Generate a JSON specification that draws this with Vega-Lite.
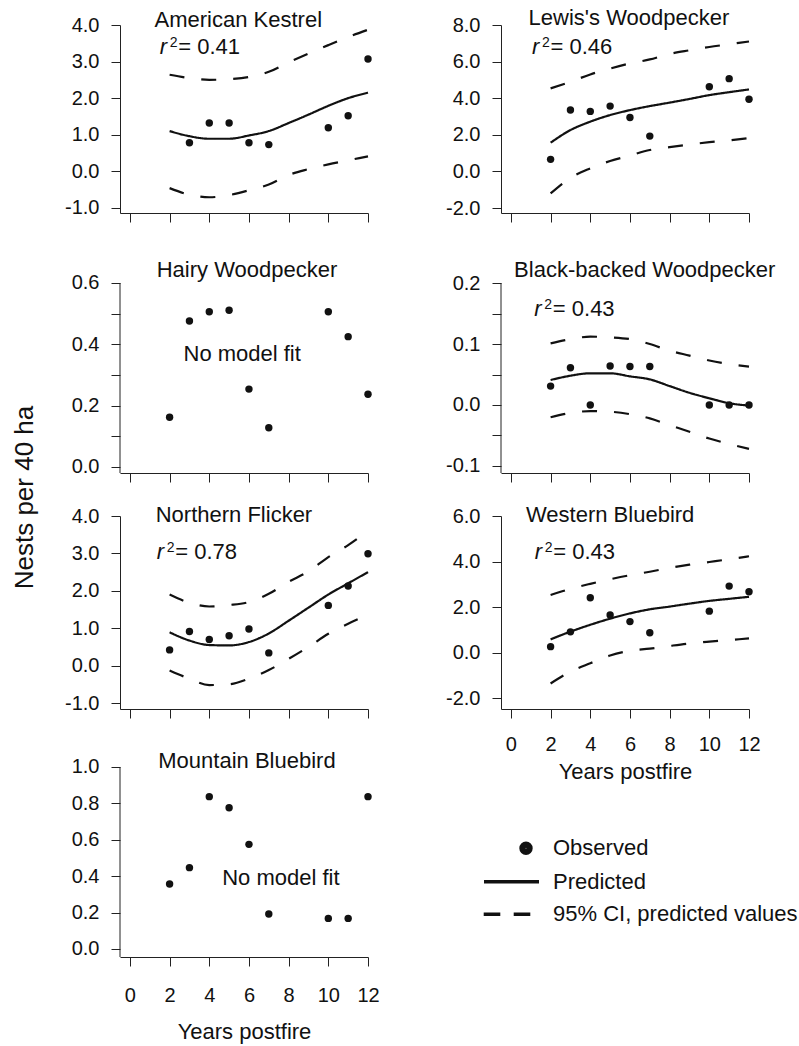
{
  "$schema": "https://vega.github.io/schema/vega-lite/v6.json",
  "padding": {"left": 11, "top": 7, "right": 2, "bottom": 2},
  "background": "white",
  "datasets": {
    "obs": [
      {"sp":"AK","year":3,"v":0.78},{"sp":"AK","year":4,"v":1.32},{"sp":"AK","year":5,"v":1.32},{"sp":"AK","year":6,"v":0.78},{"sp":"AK","year":7,"v":0.73},{"sp":"AK","year":10,"v":1.19},{"sp":"AK","year":11,"v":1.52},{"sp":"AK","year":12,"v":3.07},
      {"sp":"LW","year":2,"v":0.66},{"sp":"LW","year":3,"v":3.36},{"sp":"LW","year":4,"v":3.28},{"sp":"LW","year":5,"v":3.57},{"sp":"LW","year":6,"v":2.95},{"sp":"LW","year":7,"v":1.93},{"sp":"LW","year":10,"v":4.63},{"sp":"LW","year":11,"v":5.07},{"sp":"LW","year":12,"v":3.94},
      {"sp":"HW","year":2,"v":0.162},{"sp":"HW","year":3,"v":0.476},{"sp":"HW","year":4,"v":0.506},{"sp":"HW","year":5,"v":0.511},{"sp":"HW","year":6,"v":0.254},{"sp":"HW","year":7,"v":0.128},{"sp":"HW","year":10,"v":0.506},{"sp":"HW","year":11,"v":0.425},{"sp":"HW","year":12,"v":0.237},
      {"sp":"BW","year":2,"v":0.031},{"sp":"BW","year":3,"v":0.061},{"sp":"BW","year":4,"v":0.0},{"sp":"BW","year":5,"v":0.064},{"sp":"BW","year":6,"v":0.063},{"sp":"BW","year":7,"v":0.063},{"sp":"BW","year":10,"v":0.0},{"sp":"BW","year":11,"v":0.0},{"sp":"BW","year":12,"v":0.0},
      {"sp":"NF","year":2,"v":0.42},{"sp":"NF","year":3,"v":0.91},{"sp":"NF","year":4,"v":0.70},{"sp":"NF","year":5,"v":0.80},{"sp":"NF","year":6,"v":0.98},{"sp":"NF","year":7,"v":0.34},{"sp":"NF","year":10,"v":1.61},{"sp":"NF","year":11,"v":2.13},{"sp":"NF","year":12,"v":2.99},
      {"sp":"WB","year":2,"v":0.26},{"sp":"WB","year":3,"v":0.91},{"sp":"WB","year":4,"v":2.41},{"sp":"WB","year":5,"v":1.65},{"sp":"WB","year":6,"v":1.36},{"sp":"WB","year":7,"v":0.87},{"sp":"WB","year":10,"v":1.82},{"sp":"WB","year":11,"v":2.92},{"sp":"WB","year":12,"v":2.67},
      {"sp":"MB","year":2,"v":0.357},{"sp":"MB","year":3,"v":0.447},{"sp":"MB","year":4,"v":0.837},{"sp":"MB","year":5,"v":0.776},{"sp":"MB","year":6,"v":0.575},{"sp":"MB","year":7,"v":0.192},{"sp":"MB","year":10,"v":0.168},{"sp":"MB","year":11,"v":0.168},{"sp":"MB","year":12,"v":0.837}
    ],
    "fit": [
      {"sp":"AK","k":"pred","year":2,"v":1.10},{"sp":"AK","k":"pred","year":3,"v":0.96},{"sp":"AK","k":"pred","year":4,"v":0.89},{"sp":"AK","k":"pred","year":5,"v":0.89},{"sp":"AK","k":"pred","year":6,"v":0.98},{"sp":"AK","k":"pred","year":7,"v":1.10},{"sp":"AK","k":"pred","year":8,"v":1.32},{"sp":"AK","k":"pred","year":9,"v":1.55},{"sp":"AK","k":"pred","year":10,"v":1.79},{"sp":"AK","k":"pred","year":11,"v":2.00},{"sp":"AK","k":"pred","year":12,"v":2.15},
      {"sp":"AK","k":"hi","year":2,"v":2.64},{"sp":"AK","k":"hi","year":3,"v":2.55},{"sp":"AK","k":"hi","year":4,"v":2.50},{"sp":"AK","k":"hi","year":5,"v":2.52},{"sp":"AK","k":"hi","year":6,"v":2.58},{"sp":"AK","k":"hi","year":7,"v":2.72},{"sp":"AK","k":"hi","year":8,"v":2.98},{"sp":"AK","k":"hi","year":9,"v":3.22},{"sp":"AK","k":"hi","year":10,"v":3.45},{"sp":"AK","k":"hi","year":11,"v":3.67},{"sp":"AK","k":"hi","year":12,"v":3.87},
      {"sp":"AK","k":"lo","year":2,"v":-0.46},{"sp":"AK","k":"lo","year":3,"v":-0.64},{"sp":"AK","k":"lo","year":4,"v":-0.71},{"sp":"AK","k":"lo","year":5,"v":-0.65},{"sp":"AK","k":"lo","year":6,"v":-0.52},{"sp":"AK","k":"lo","year":7,"v":-0.36},{"sp":"AK","k":"lo","year":8,"v":-0.10},{"sp":"AK","k":"lo","year":9,"v":0.06},{"sp":"AK","k":"lo","year":10,"v":0.19},{"sp":"AK","k":"lo","year":11,"v":0.30},{"sp":"AK","k":"lo","year":12,"v":0.41},
      {"sp":"LW","k":"pred","year":2,"v":1.57},{"sp":"LW","k":"pred","year":3,"v":2.26},{"sp":"LW","k":"pred","year":4,"v":2.72},{"sp":"LW","k":"pred","year":5,"v":3.08},{"sp":"LW","k":"pred","year":6,"v":3.35},{"sp":"LW","k":"pred","year":7,"v":3.57},{"sp":"LW","k":"pred","year":8,"v":3.76},{"sp":"LW","k":"pred","year":9,"v":3.96},{"sp":"LW","k":"pred","year":10,"v":4.17},{"sp":"LW","k":"pred","year":11,"v":4.33},{"sp":"LW","k":"pred","year":12,"v":4.48},
      {"sp":"LW","k":"hi","year":2,"v":4.54},{"sp":"LW","k":"hi","year":3,"v":4.90},{"sp":"LW","k":"hi","year":4,"v":5.30},{"sp":"LW","k":"hi","year":5,"v":5.62},{"sp":"LW","k":"hi","year":6,"v":5.90},{"sp":"LW","k":"hi","year":7,"v":6.12},{"sp":"LW","k":"hi","year":8,"v":6.42},{"sp":"LW","k":"hi","year":9,"v":6.62},{"sp":"LW","k":"hi","year":10,"v":6.80},{"sp":"LW","k":"hi","year":11,"v":6.95},{"sp":"LW","k":"hi","year":12,"v":7.10},
      {"sp":"LW","k":"lo","year":2,"v":-1.20},{"sp":"LW","k":"lo","year":3,"v":-0.35},{"sp":"LW","k":"lo","year":4,"v":0.17},{"sp":"LW","k":"lo","year":5,"v":0.57},{"sp":"LW","k":"lo","year":6,"v":0.87},{"sp":"LW","k":"lo","year":7,"v":1.17},{"sp":"LW","k":"lo","year":8,"v":1.33},{"sp":"LW","k":"lo","year":9,"v":1.47},{"sp":"LW","k":"lo","year":10,"v":1.60},{"sp":"LW","k":"lo","year":11,"v":1.70},{"sp":"LW","k":"lo","year":12,"v":1.82},
      {"sp":"BW","k":"pred","year":2,"v":0.041},{"sp":"BW","k":"pred","year":3,"v":0.048},{"sp":"BW","k":"pred","year":4,"v":0.052},{"sp":"BW","k":"pred","year":5,"v":0.052},{"sp":"BW","k":"pred","year":6,"v":0.047},{"sp":"BW","k":"pred","year":7,"v":0.042},{"sp":"BW","k":"pred","year":8,"v":0.031},{"sp":"BW","k":"pred","year":9,"v":0.020},{"sp":"BW","k":"pred","year":10,"v":0.011},{"sp":"BW","k":"pred","year":11,"v":0.003},{"sp":"BW","k":"pred","year":12,"v":-0.001},
      {"sp":"BW","k":"hi","year":2,"v":0.101},{"sp":"BW","k":"hi","year":3,"v":0.108},{"sp":"BW","k":"hi","year":4,"v":0.112},{"sp":"BW","k":"hi","year":5,"v":0.111},{"sp":"BW","k":"hi","year":6,"v":0.108},{"sp":"BW","k":"hi","year":7,"v":0.100},{"sp":"BW","k":"hi","year":8,"v":0.089},{"sp":"BW","k":"hi","year":9,"v":0.081},{"sp":"BW","k":"hi","year":10,"v":0.073},{"sp":"BW","k":"hi","year":11,"v":0.067},{"sp":"BW","k":"hi","year":12,"v":0.063},
      {"sp":"BW","k":"lo","year":2,"v":-0.020},{"sp":"BW","k":"lo","year":3,"v":-0.013},{"sp":"BW","k":"lo","year":4,"v":-0.010},{"sp":"BW","k":"lo","year":5,"v":-0.011},{"sp":"BW","k":"lo","year":6,"v":-0.015},{"sp":"BW","k":"lo","year":7,"v":-0.022},{"sp":"BW","k":"lo","year":8,"v":-0.033},{"sp":"BW","k":"lo","year":9,"v":-0.044},{"sp":"BW","k":"lo","year":10,"v":-0.055},{"sp":"BW","k":"lo","year":11,"v":-0.064},{"sp":"BW","k":"lo","year":12,"v":-0.072},
      {"sp":"NF","k":"pred","year":2,"v":0.89},{"sp":"NF","k":"pred","year":3,"v":0.67},{"sp":"NF","k":"pred","year":4,"v":0.55},{"sp":"NF","k":"pred","year":5,"v":0.54},{"sp":"NF","k":"pred","year":6,"v":0.63},{"sp":"NF","k":"pred","year":7,"v":0.86},{"sp":"NF","k":"pred","year":8,"v":1.20},{"sp":"NF","k":"pred","year":9,"v":1.55},{"sp":"NF","k":"pred","year":10,"v":1.90},{"sp":"NF","k":"pred","year":11,"v":2.20},{"sp":"NF","k":"pred","year":12,"v":2.50},
      {"sp":"NF","k":"hi","year":2,"v":1.90},{"sp":"NF","k":"hi","year":3,"v":1.68},{"sp":"NF","k":"hi","year":4,"v":1.58},{"sp":"NF","k":"hi","year":5,"v":1.62},{"sp":"NF","k":"hi","year":6,"v":1.70},{"sp":"NF","k":"hi","year":7,"v":1.92},{"sp":"NF","k":"hi","year":8,"v":2.24},{"sp":"NF","k":"hi","year":9,"v":2.52},{"sp":"NF","k":"hi","year":10,"v":2.90},{"sp":"NF","k":"hi","year":11,"v":3.22},{"sp":"NF","k":"hi","year":12,"v":3.60},
      {"sp":"NF","k":"lo","year":2,"v":-0.13},{"sp":"NF","k":"lo","year":3,"v":-0.35},{"sp":"NF","k":"lo","year":4,"v":-0.52},{"sp":"NF","k":"lo","year":5,"v":-0.50},{"sp":"NF","k":"lo","year":6,"v":-0.35},{"sp":"NF","k":"lo","year":7,"v":-0.12},{"sp":"NF","k":"lo","year":8,"v":0.18},{"sp":"NF","k":"lo","year":9,"v":0.50},{"sp":"NF","k":"lo","year":10,"v":0.85},{"sp":"NF","k":"lo","year":11,"v":1.12},{"sp":"NF","k":"lo","year":12,"v":1.36},
      {"sp":"WB","k":"pred","year":2,"v":0.58},{"sp":"WB","k":"pred","year":3,"v":0.92},{"sp":"WB","k":"pred","year":4,"v":1.22},{"sp":"WB","k":"pred","year":5,"v":1.49},{"sp":"WB","k":"pred","year":6,"v":1.72},{"sp":"WB","k":"pred","year":7,"v":1.90},{"sp":"WB","k":"pred","year":8,"v":2.02},{"sp":"WB","k":"pred","year":9,"v":2.15},{"sp":"WB","k":"pred","year":10,"v":2.27},{"sp":"WB","k":"pred","year":11,"v":2.36},{"sp":"WB","k":"pred","year":12,"v":2.45},
      {"sp":"WB","k":"hi","year":2,"v":2.53},{"sp":"WB","k":"hi","year":3,"v":2.80},{"sp":"WB","k":"hi","year":4,"v":3.02},{"sp":"WB","k":"hi","year":5,"v":3.22},{"sp":"WB","k":"hi","year":6,"v":3.40},{"sp":"WB","k":"hi","year":7,"v":3.55},{"sp":"WB","k":"hi","year":8,"v":3.72},{"sp":"WB","k":"hi","year":9,"v":3.86},{"sp":"WB","k":"hi","year":10,"v":3.98},{"sp":"WB","k":"hi","year":11,"v":4.10},{"sp":"WB","k":"hi","year":12,"v":4.23},
      {"sp":"WB","k":"lo","year":2,"v":-1.36},{"sp":"WB","k":"lo","year":3,"v":-0.84},{"sp":"WB","k":"lo","year":4,"v":-0.47},{"sp":"WB","k":"lo","year":5,"v":-0.13},{"sp":"WB","k":"lo","year":6,"v":0.08},{"sp":"WB","k":"lo","year":7,"v":0.17},{"sp":"WB","k":"lo","year":8,"v":0.29},{"sp":"WB","k":"lo","year":9,"v":0.40},{"sp":"WB","k":"lo","year":10,"v":0.48},{"sp":"WB","k":"lo","year":11,"v":0.55},{"sp":"WB","k":"lo","year":12,"v":0.62}
    ],
    "notes": [
      {"sp":"AK","name":"American Kestrel","fit":"= 0.41"},
      {"sp":"LW","name":"Lewis's Woodpecker","fit":"= 0.46"},
      {"sp":"HW","name":"Hairy Woodpecker","fit":"No model fit"},
      {"sp":"BW","name":"Black-backed Woodpecker","fit":"= 0.43"},
      {"sp":"NF","name":"Northern Flicker","fit":"= 0.78"},
      {"sp":"WB","name":"Western Bluebird","fit":"= 0.43"},
      {"sp":"MB","name":"Mountain Bluebird","fit":"No model fit"}
    ],
    "legend": [{"item":"Observed"},{"item":"Predicted"},{"item":"95% CI, predicted values"}]
  },
  "columns": 2,
  "spacing": {"row": 43, "column": 133},
  "bounds": "flush",
  "concat": [
    {
      "width": 248, "height": 188,
      "layer": [
        {"data":{"name":"fit"},"transform":[{"filter":"datum.sp == 'AK'"}],"mark":{"type":"line","color":"#111","strokeWidth":2.2,"interpolate":"monotone"},
         "encoding":{"x":{"field":"year","type":"quantitative","scale":{"domain":[-0.5,12],"nice":false,"zero":false},"axis":{"values":[0,2,4,6,8,10,12],"tickCount":30,"labels":false,"title":null}},
                     "y":{"field":"v","type":"quantitative","scale":{"domain":[-1.14,4],"nice":false,"zero":false},"axis":{"values":[-1,0,1,2,3,4],"tickCount":30,"title":null,"labelExpr":"replace(format(datum.value,'.1f'),'\u2212','-')"}},
                     "strokeDash":{"field":"k","type":"nominal","scale":{"domain":["pred","hi","lo"],"range":[[1,0],[15,17],[15,17]]},"legend":null}}},
        {"data":{"name":"obs"},"transform":[{"filter":"datum.sp == 'AK'"}],"mark":{"type":"circle","size":55,"color":"#111","opacity":1},
         "encoding":{"x":{"field":"year","type":"quantitative"},"y":{"field":"v","type":"quantitative"}}},
        {"data":{"name":"notes"},"transform":[{"filter":"datum.sp == 'AK'"}],"mark":{"type":"text","align":"left","baseline":"alphabetic","fontSize":22,"color":"#111"},"encoding":{"x":{"datum":1.24,"type":"quantitative"},"y":{"datum":3.95,"type":"quantitative"},"text":{"field":"name"}}},
        {"data":{"name":"notes"},"transform":[{"filter":"datum.sp == 'AK'"}],"mark":{"type":"text","align":"left","baseline":"alphabetic","fontSize":22,"fontStyle":"italic","color":"#111"},"encoding":{"x":{"datum":1.5,"type":"quantitative"},"y":{"datum":3.21,"type":"quantitative"},"text":{"value":"r"}}},
        {"data":{"name":"notes"},"transform":[{"filter":"datum.sp == 'AK'"}],"mark":{"type":"text","align":"left","baseline":"alphabetic","fontSize":14,"dx":10,"dy":-7,"color":"#111"},"encoding":{"x":{"datum":1.5,"type":"quantitative"},"y":{"datum":3.21,"type":"quantitative"},"text":{"value":"2"}}},
        {"data":{"name":"notes"},"transform":[{"filter":"datum.sp == 'AK'"}],"mark":{"type":"text","align":"left","baseline":"alphabetic","fontSize":22,"dx":18.5,"color":"#111"},"encoding":{"x":{"datum":1.5,"type":"quantitative"},"y":{"datum":3.21,"type":"quantitative"},"text":{"field":"fit"}}}
      ]
    },
    {
      "width": 248, "height": 188,
      "layer": [
        {"data":{"name":"fit"},"transform":[{"filter":"datum.sp == 'LW'"}],"mark":{"type":"line","color":"#111","strokeWidth":2.2,"interpolate":"monotone"},
         "encoding":{"x":{"field":"year","type":"quantitative","scale":{"domain":[-0.5,12],"nice":false,"zero":false},"axis":{"values":[0,2,4,6,8,10,12],"tickCount":30,"labels":false,"title":null}},
                     "y":{"field":"v","type":"quantitative","scale":{"domain":[-2.27,8],"nice":false,"zero":false},"axis":{"values":[-2,0,2,4,6,8],"tickCount":30,"title":null,"labelExpr":"replace(format(datum.value,'.1f'),'\u2212','-')"}},
                     "strokeDash":{"field":"k","type":"nominal","scale":{"domain":["pred","hi","lo"],"range":[[1,0],[15,17],[15,17]]},"legend":null}}},
        {"data":{"name":"obs"},"transform":[{"filter":"datum.sp == 'LW'"}],"mark":{"type":"circle","size":55,"color":"#111","opacity":1},
         "encoding":{"x":{"field":"year","type":"quantitative"},"y":{"field":"v","type":"quantitative"}}},
        {"data":{"name":"notes"},"transform":[{"filter":"datum.sp == 'LW'"}],"mark":{"type":"text","align":"left","baseline":"alphabetic","fontSize":22,"color":"#111"},"encoding":{"x":{"datum":0.89,"type":"quantitative"},"y":{"datum":8.0,"type":"quantitative"},"text":{"field":"name"}}},
        {"data":{"name":"notes"},"transform":[{"filter":"datum.sp == 'LW'"}],"mark":{"type":"text","align":"left","baseline":"alphabetic","fontSize":22,"fontStyle":"italic","color":"#111"},"encoding":{"x":{"datum":1.06,"type":"quantitative"},"y":{"datum":6.42,"type":"quantitative"},"text":{"value":"r"}}},
        {"data":{"name":"notes"},"transform":[{"filter":"datum.sp == 'LW'"}],"mark":{"type":"text","align":"left","baseline":"alphabetic","fontSize":14,"dx":10,"dy":-7,"color":"#111"},"encoding":{"x":{"datum":1.06,"type":"quantitative"},"y":{"datum":6.42,"type":"quantitative"},"text":{"value":"2"}}},
        {"data":{"name":"notes"},"transform":[{"filter":"datum.sp == 'LW'"}],"mark":{"type":"text","align":"left","baseline":"alphabetic","fontSize":22,"dx":18.5,"color":"#111"},"encoding":{"x":{"datum":1.06,"type":"quantitative"},"y":{"datum":6.42,"type":"quantitative"},"text":{"field":"fit"}}}
      ]
    },
    {
      "width": 248, "height": 217,
      "layer": [
        {"data":{"name":"obs"},"transform":[{"filter":"datum.sp == 'HW'"}],"mark":{"type":"circle","size":55,"color":"#111","opacity":1},
         "encoding":{"x":{"field":"year","type":"quantitative","scale":{"domain":[-0.5,12],"nice":false,"zero":false},"axis":{"values":[0,2,4,6,8,10,12],"tickCount":30,"labels":false,"title":null}},
                     "y":{"field":"v","type":"quantitative","scale":{"domain":[-0.0196,0.688],"nice":false,"zero":false},"axis":{"domain":false,"values":[0,0.1,0.2,0.3,0.4,0.5,0.6],"tickCount":30,"labelExpr":"round(datum.value*10)%2==0 ? format(datum.value,'.1f') : ''","title":"Nests per 40 ha","titleFontSize":26,"titleX":-88,"titleY":241,"titleBaseline":"alphabetic","titleAngle":270,"titleAlign":"center"}}}},
        {"data":{"name":"notes"},"transform":[{"filter":"datum.sp == 'HW'"}],"mark":{"type":"rule","color":"#222","strokeWidth":1},"encoding":{"x":{"datum":-0.5,"type":"quantitative"},"y":{"datum":-0.0196,"type":"quantitative"},"y2":{"datum":0.6}}},
        {"data":{"name":"notes"},"transform":[{"filter":"datum.sp == 'HW'"}],"mark":{"type":"text","align":"left","baseline":"alphabetic","fontSize":22,"color":"#111"},"encoding":{"x":{"datum":1.35,"type":"quantitative"},"y":{"datum":0.619,"type":"quantitative"},"text":{"field":"name"}}},
        {"data":{"name":"notes"},"transform":[{"filter":"datum.sp == 'HW'"}],"mark":{"type":"text","align":"left","baseline":"alphabetic","fontSize":22,"color":"#111"},"encoding":{"x":{"datum":2.7,"type":"quantitative"},"y":{"datum":0.347,"type":"quantitative"},"text":{"field":"fit"}}}
      ]
    },
    {
      "width": 248, "height": 217,
      "layer": [
        {"data":{"name":"fit"},"transform":[{"filter":"datum.sp == 'BW'"}],"mark":{"type":"line","color":"#111","strokeWidth":2.2,"interpolate":"monotone"},
         "encoding":{"x":{"field":"year","type":"quantitative","scale":{"domain":[-0.5,12],"nice":false,"zero":false},"axis":{"values":[0,2,4,6,8,10,12],"tickCount":30,"labels":false,"title":null}},
                     "y":{"field":"v","type":"quantitative","scale":{"domain":[-0.1115,0.2443],"nice":false,"zero":false},"axis":{"domain":false,"values":[-0.1,-0.05,0,0.05,0.1,0.15,0.2],"tickCount":30,"title":null,"labelExpr":"round(datum.value*20)%2==0 ? replace(format(datum.value,'.1f'),'\u2212','-') : ''"}},
                     "strokeDash":{"field":"k","type":"nominal","scale":{"domain":["pred","hi","lo"],"range":[[1,0],[15,17],[15,17]]},"legend":null}}},
        {"data":{"name":"obs"},"transform":[{"filter":"datum.sp == 'BW'"}],"mark":{"type":"circle","size":55,"color":"#111","opacity":1},
         "encoding":{"x":{"field":"year","type":"quantitative"},"y":{"field":"v","type":"quantitative"}}},
        {"data":{"name":"notes"},"transform":[{"filter":"datum.sp == 'BW'"}],"mark":{"type":"rule","color":"#222","strokeWidth":1},"encoding":{"x":{"datum":-0.5,"type":"quantitative"},"y":{"datum":-0.1115,"type":"quantitative"},"y2":{"datum":0.2}}},
        {"data":{"name":"notes"},"transform":[{"filter":"datum.sp == 'BW'"}],"mark":{"type":"text","align":"left","baseline":"alphabetic","fontSize":22,"color":"#111"},"encoding":{"x":{"datum":0.16,"type":"quantitative"},"y":{"datum":0.21,"type":"quantitative"},"text":{"field":"name"}}},
        {"data":{"name":"notes"},"transform":[{"filter":"datum.sp == 'BW'"}],"mark":{"type":"text","align":"left","baseline":"alphabetic","fontSize":22,"fontStyle":"italic","color":"#111"},"encoding":{"x":{"datum":1.18,"type":"quantitative"},"y":{"datum":0.146,"type":"quantitative"},"text":{"value":"r"}}},
        {"data":{"name":"notes"},"transform":[{"filter":"datum.sp == 'BW'"}],"mark":{"type":"text","align":"left","baseline":"alphabetic","fontSize":14,"dx":10,"dy":-7,"color":"#111"},"encoding":{"x":{"datum":1.18,"type":"quantitative"},"y":{"datum":0.146,"type":"quantitative"},"text":{"value":"2"}}},
        {"data":{"name":"notes"},"transform":[{"filter":"datum.sp == 'BW'"}],"mark":{"type":"text","align":"left","baseline":"alphabetic","fontSize":22,"dx":18.5,"color":"#111"},"encoding":{"x":{"datum":1.18,"type":"quantitative"},"y":{"datum":0.146,"type":"quantitative"},"text":{"field":"fit"}}}
      ]
    },
    {
      "width": 248, "height": 193,
      "layer": [
        {"data":{"name":"fit"},"transform":[{"filter":"datum.sp == 'NF'"}],"mark":{"type":"line","color":"#111","strokeWidth":2.2,"interpolate":"monotone"},
         "encoding":{"x":{"field":"year","type":"quantitative","scale":{"domain":[-0.5,12],"nice":false,"zero":false},"axis":{"values":[0,2,4,6,8,10,12],"tickCount":30,"labels":false,"title":null}},
                     "y":{"field":"v","type":"quantitative","scale":{"domain":[-1.16,4],"nice":false,"zero":false},"axis":{"values":[-1,0,1,2,3,4],"tickCount":30,"title":null,"labelExpr":"replace(format(datum.value,'.1f'),'\u2212','-')"}},
                     "strokeDash":{"field":"k","type":"nominal","scale":{"domain":["pred","hi","lo"],"range":[[1,0],[15,17],[15,17]]},"legend":null}}},
        {"data":{"name":"obs"},"transform":[{"filter":"datum.sp == 'NF'"}],"mark":{"type":"circle","size":55,"color":"#111","opacity":1},
         "encoding":{"x":{"field":"year","type":"quantitative"},"y":{"field":"v","type":"quantitative"}}},
        {"data":{"name":"notes"},"transform":[{"filter":"datum.sp == 'NF'"}],"mark":{"type":"text","align":"left","baseline":"alphabetic","fontSize":22,"color":"#111"},"encoding":{"x":{"datum":1.3,"type":"quantitative"},"y":{"datum":3.85,"type":"quantitative"},"text":{"field":"name"}}},
        {"data":{"name":"notes"},"transform":[{"filter":"datum.sp == 'NF'"}],"mark":{"type":"text","align":"left","baseline":"alphabetic","fontSize":22,"fontStyle":"italic","color":"#111"},"encoding":{"x":{"datum":1.35,"type":"quantitative"},"y":{"datum":2.84,"type":"quantitative"},"text":{"value":"r"}}},
        {"data":{"name":"notes"},"transform":[{"filter":"datum.sp == 'NF'"}],"mark":{"type":"text","align":"left","baseline":"alphabetic","fontSize":14,"dx":10,"dy":-7,"color":"#111"},"encoding":{"x":{"datum":1.35,"type":"quantitative"},"y":{"datum":2.84,"type":"quantitative"},"text":{"value":"2"}}},
        {"data":{"name":"notes"},"transform":[{"filter":"datum.sp == 'NF'"}],"mark":{"type":"text","align":"left","baseline":"alphabetic","fontSize":22,"dx":18.5,"color":"#111"},"encoding":{"x":{"datum":1.35,"type":"quantitative"},"y":{"datum":2.84,"type":"quantitative"},"text":{"field":"fit"}}}
      ]
    },
    {
      "width": 248, "height": 193,
      "layer": [
        {"data":{"name":"fit"},"transform":[{"filter":"datum.sp == 'WB'"}],"mark":{"type":"line","color":"#111","strokeWidth":2.2,"interpolate":"monotone"},
         "encoding":{"x":{"field":"year","type":"quantitative","scale":{"domain":[-0.5,12],"nice":false,"zero":false},"axis":{"values":[0,2,4,6,8,10,12],"tickCount":30,"format":"d","labels":true,"labelPadding":16,"title":"Years postfire","titlePadding":7.6}},
                     "y":{"field":"v","type":"quantitative","scale":{"domain":[-2.48,6],"nice":false,"zero":false},"axis":{"values":[-2,0,2,4,6],"tickCount":30,"title":null,"labelExpr":"replace(format(datum.value,'.1f'),'\u2212','-')"}},
                     "strokeDash":{"field":"k","type":"nominal","scale":{"domain":["pred","hi","lo"],"range":[[1,0],[15,17],[15,17]]},"legend":null}}},
        {"data":{"name":"obs"},"transform":[{"filter":"datum.sp == 'WB'"}],"mark":{"type":"circle","size":55,"color":"#111","opacity":1},
         "encoding":{"x":{"field":"year","type":"quantitative"},"y":{"field":"v","type":"quantitative"}}},
        {"data":{"name":"notes"},"transform":[{"filter":"datum.sp == 'WB'"}],"mark":{"type":"text","align":"left","baseline":"alphabetic","fontSize":22,"color":"#111"},"encoding":{"x":{"datum":0.76,"type":"quantitative"},"y":{"datum":5.75,"type":"quantitative"},"text":{"field":"name"}}},
        {"data":{"name":"notes"},"transform":[{"filter":"datum.sp == 'WB'"}],"mark":{"type":"text","align":"left","baseline":"alphabetic","fontSize":22,"fontStyle":"italic","color":"#111"},"encoding":{"x":{"datum":1.2,"type":"quantitative"},"y":{"datum":4.12,"type":"quantitative"},"text":{"value":"r"}}},
        {"data":{"name":"notes"},"transform":[{"filter":"datum.sp == 'WB'"}],"mark":{"type":"text","align":"left","baseline":"alphabetic","fontSize":14,"dx":10,"dy":-7,"color":"#111"},"encoding":{"x":{"datum":1.2,"type":"quantitative"},"y":{"datum":4.12,"type":"quantitative"},"text":{"value":"2"}}},
        {"data":{"name":"notes"},"transform":[{"filter":"datum.sp == 'WB'"}],"mark":{"type":"text","align":"left","baseline":"alphabetic","fontSize":22,"dx":18.5,"color":"#111"},"encoding":{"x":{"datum":1.2,"type":"quantitative"},"y":{"datum":4.12,"type":"quantitative"},"text":{"field":"fit"}}}
      ]
    },
    {
      "width": 248, "height": 205,
      "layer": [
        {"data":{"name":"obs"},"transform":[{"filter":"datum.sp == 'MB'"}],"mark":{"type":"circle","size":55,"color":"#111","opacity":1},
         "encoding":{"x":{"field":"year","type":"quantitative","scale":{"domain":[-0.5,12],"nice":false,"zero":false},"axis":{"values":[0,2,4,6,8,10,12],"tickCount":30,"format":"d","labels":true,"labelPadding":19,"title":"Years postfire","titlePadding":16.6}},
                     "y":{"field":"v","type":"quantitative","scale":{"domain":[-0.044,1.0824],"nice":false,"zero":false},"axis":{"domain":false,"values":[0,0.2,0.4,0.6,0.8,1],"tickCount":30,"title":null,"format":".1f"}}}},
        {"data":{"name":"notes"},"transform":[{"filter":"datum.sp == 'MB'"}],"mark":{"type":"rule","color":"#222","strokeWidth":1},"encoding":{"x":{"datum":-0.5,"type":"quantitative"},"y":{"datum":-0.044,"type":"quantitative"},"y2":{"datum":1.0}}},
        {"data":{"name":"notes"},"transform":[{"filter":"datum.sp == 'MB'"}],"mark":{"type":"text","align":"left","baseline":"alphabetic","fontSize":22,"color":"#111"},"encoding":{"x":{"datum":1.43,"type":"quantitative"},"y":{"datum":0.993,"type":"quantitative"},"text":{"field":"name"}}},
        {"data":{"name":"notes"},"transform":[{"filter":"datum.sp == 'MB'"}],"mark":{"type":"text","align":"left","baseline":"alphabetic","fontSize":22,"color":"#111"},"encoding":{"x":{"datum":4.65,"type":"quantitative"},"y":{"datum":0.352,"type":"quantitative"},"text":{"field":"fit"}}},
        {"data":{"name":"legend"},"mark":{"type":"point","filled":false,"opacity":1,"color":"#111","strokeWidth":3.5},
         "encoding":{"x":{"field":"year","type":"quantitative"},"y":{"field":"v","type":"quantitative"},
           "shape":{"field":"item","type":"nominal","scale":{"domain":["Observed","Predicted","95% CI, predicted values"],"range":["M1.23,0A0.22,0.22,0,1,1,1.67,0A0.22,0.22,0,1,1,1.23,0ZM0.955,0A0.495,0.495,0,1,1,1.945,0A0.495,0.495,0,1,1,0.955,0Z","M-2.75,0L2.75,0","M-2.78,0L-1.12,0M0.22,0L1.88,0"]},
             "legend":{"title":null,"orient":"none","legendX":379.5,"legendY":811.3,"direction":"vertical","symbolSize":400,"symbolStrokeWidth":3.5,"symbolStrokeColor":"#111","symbolOpacity":1,"labelFontSize":22,"labelColor":"#111","labelFont":"Liberation Sans","labelOffset":29.5,"labelLimit":400,"rowPadding":9.5,"padding":0}}}}
      ]
    }
  ],
  "config": {
    "font": "Liberation Sans",
    "view": {"stroke": null},
    "axis": {"grid": false, "domainColor": "#222", "domainWidth": 1, "tickColor": "#222", "tickWidth": 1, "tickSize": 9, "tickCount": 30, "labelFont": "Liberation Sans", "labelFontSize": 20, "labelColor": "#111", "labelFlush": false, "labelOverlap": false, "titleFont": "Liberation Sans", "titleFontSize": 22, "titleFontWeight": "normal", "titleColor": "#111"},
    "axisY": {"labelPadding": 12},
    "axisX": {"labelPadding": 18, "titlePadding": 8}
  }
}
